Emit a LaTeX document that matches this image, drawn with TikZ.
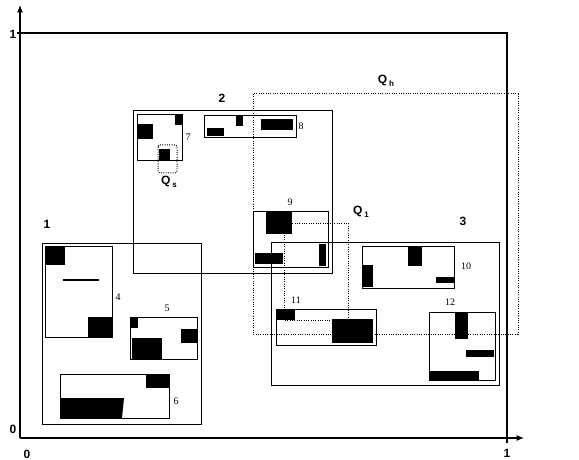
\documentclass[tikz,border=0pt]{standalone}
\usepackage{fontspec}
\setmainfont{Liberation Serif}
\setsansfont{Liberation Sans}
\usetikzlibrary{arrows.meta}

\tikzset{
	box/.style={draw, line width=0.6pt},
	blk/.style={fill=black},
	qbox/.style={draw, densely dotted, line width=0.75pt},
	num/.style={font=\fontsize{7.5}{8}\selectfont},
	lab/.style={font=\sffamily\bfseries\fontsize{9}{10}\selectfont},
}
\newcommand{\qsub}[1]{Q\,\raisebox{-0.55ex}{\fontsize{6}{6}\selectfont #1}}

\begin{document}
\begin{tikzpicture}[x=0.75pt,y=-0.75pt]
		\useasboundingbox (0,0) rectangle (579,460);
		
		% axes
		\coordinate (o) at (20,438);
		\coordinate (ytop) at (20,5);
		\coordinate (xend) at (524,438);
		\draw[line width=0.8pt,-{Latex[length=5.5pt,width=4.5pt]}] (o) -- (ytop);
		\draw[line width=0.8pt,-{Latex[length=5.5pt,width=4.5pt]}] (o) -- (xend);
		\draw[line width=0.8pt] (17,33) -- (507,33) -- (507,443);
		
		\node[lab] (y1) at (13,34) {1};
		\node[lab] (y0) at (13,429) {0};
		\node[lab] (x0) at (27,454) {0};
		\node[lab] (x1) at (507,453) {1};
		
		% query windows
		\draw[qbox] (253,94) rectangle (518,334);
		\draw[qbox] (284,223) rectangle (348,320);
		\draw[qbox, rounded corners=1.5pt] (158,145) rectangle (177,173);
		
		% regions
		\draw[box] (42,243) rectangle (201,424);
		\draw[box] (133,110) rectangle (332,273);
		\draw[box] (271,242) rectangle (499,385);
		
		% pages
		\draw[box] (45,246) rectangle (112,337);
		\draw[box] (130,317) rectangle (197,359);
		\draw[box] (60,374) rectangle (169,418);
		\draw[box] (137,114) rectangle (182,160);
		\draw[box] (204,115) rectangle (296,137);
		\draw[box] (253,211) rectangle (328,267);
		\draw[box] (362,246) rectangle (454,288);
		\draw[box] (276,309) rectangle (376,345);
		\draw[box] (429,312) rectangle (495,380);
		
		% objects
		\fill[blk] (45,246) rectangle (65,265);
		\fill[blk] (88,317) rectangle (112,337);
		\draw[line width=0.8pt] (63,280) -- (99,280);
		\fill[blk] (130,317) rectangle (138,328);
		\fill[blk] (181,329) rectangle (197,343);
		\fill[blk] (132,338) rectangle (162,359);
		\fill[blk] (146,374) rectangle (169,388);
		\fill[blk] (60,398) -- (124,398) -- (122,418) -- (60,418) -- cycle;
		\fill[blk] (175,114) rectangle (182,125);
		\fill[blk] (137,124) rectangle (153,139);
		\fill[blk] (159,149) rectangle (170,160);
		\fill[blk] (236,115) rectangle (243,126);
		\fill[blk] (261,119) rectangle (293,130);
		\fill[blk] (207,128) rectangle (224,136);
		\fill[blk] (266,211) rectangle (292,234);
		\fill[blk] (255,253) rectangle (283,264);
		\fill[blk] (319,244) rectangle (326,266);
		\fill[blk] (408,246) rectangle (422,266);
		\fill[blk] (362,265) rectangle (373,287);
		\fill[blk] (436,277) rectangle (454,283);
		\fill[blk] (276,309) rectangle (295,320);
		\fill[blk] (332,319) rectangle (373,343);
		\fill[blk] (455,312) rectangle (468,339);
		\fill[blk] (466,350) rectangle (494,357);
		\fill[blk] (430,371) rectangle (479,380);
		
		% labels
		\node[lab] (r1) at (47,224) {1};
		\node[lab] (r2) at (222,98) {2};
		\node[lab] (r3) at (463,221) {3};
		\node[num] (p4) at (118,297) {4};
		\node[num] (p5) at (167,308) {5};
		\node[num] (p6) at (176,401) {6};
		\node[num] (p7) at (188,137) {7};
		\node[num] (p8) at (301,126) {8};
		\node[num] (p9) at (290,202) {9};
		\node[num] (p10) at (466,266) {10};
		\node[num] (p11) at (296,300) {11};
		\node[num] (p12) at (450,302) {12};
		\node[lab] (qh) at (386,81) {\qsub{h}};
		\node[lab] (qs) at (169,182) {\qsub{s}};
		\node[lab] (q1) at (361,212) {\qsub{1}};
	\end{tikzpicture}
\end{document}
